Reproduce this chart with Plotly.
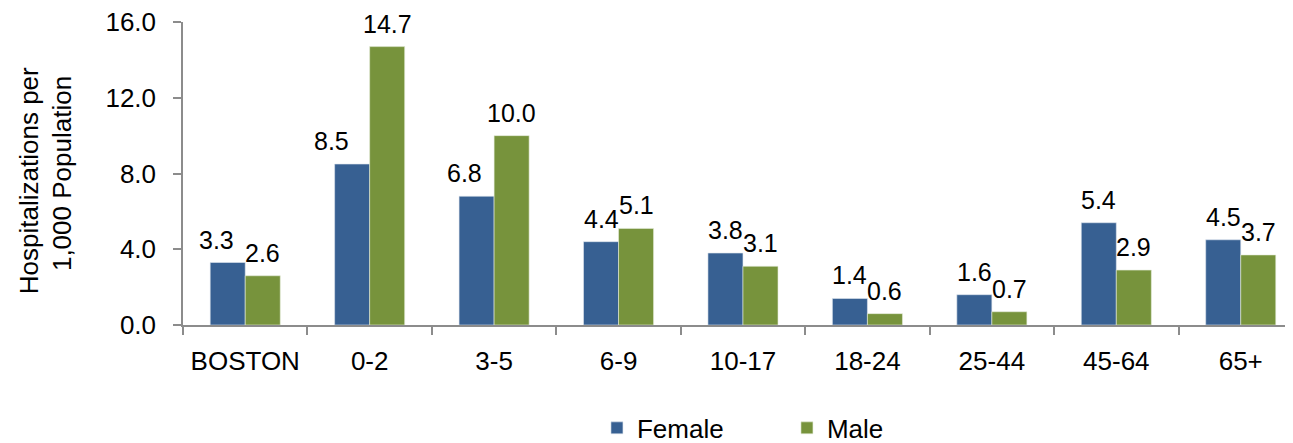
import plotly.graph_objects as go

categories = ["BOSTON", "0-2", "3-5", "6-9", "10-17", "18-24", "25-44", "45-64", "65+"]
female = [3.3, 8.5, 6.8, 4.4, 3.8, 1.4, 1.6, 5.4, 4.5]
male = [2.6, 14.7, 10.0, 5.1, 3.1, 0.6, 0.7, 2.9, 3.7]
y_ticks = [0, 4, 8, 12, 16]

# a few female labels sit left of their bar in the original (manual nudges)
female_label_nudge = [-11, -21, -12, 0, 0, 0, 0, 0, 0]

font_family = "Liberation Sans, Arial, Helvetica, sans-serif"
blue = "#376092"
green = "#77933C"
axis_grey = "#8c8c8c"

fig = go.Figure()
fig.add_trace(go.Bar(x=categories, y=female, name="Female",
                     marker=dict(color=blue, line=dict(color="#dfe6ee", width=0.6))))
fig.add_trace(go.Bar(x=categories, y=male, name="Male",
                     marker=dict(color=green, line=dict(color="#e6eddc", width=0.6))))

# data labels
half_bar = 17.5
for cat, f, m, nudge in zip(categories, female, male, female_label_nudge):
    fig.add_annotation(x=cat, y=f, text=f"{f:.1f}", showarrow=False,
                       xshift=-half_bar + nudge, yshift=7, yanchor="bottom",
                       font=dict(size=25, color="black"))
    fig.add_annotation(x=cat, y=m, text=f"{m:.1f}", showarrow=False,
                       xshift=half_bar, yshift=7, yanchor="bottom",
                       font=dict(size=25, color="black"))

# the page body has an 8px default margin, so margins are shifted to compensate
fig.update_layout(
    width=1293, height=443,
    margin=dict(l=175, r=8, t=14, b=126),
    plot_bgcolor="white", paper_bgcolor="white",
    font=dict(family=font_family, size=26, color="black"),
    barmode="group", bargap=0.437, bargroupgap=0,
    showlegend=True,
    legend=dict(orientation="h", xref="container", yref="container",
                x=0.4555, xanchor="left", y=0.052, yanchor="middle",
                font=dict(size=26), traceorder="normal", itemwidth=30,
                entrywidth=145),
)
fig.update_xaxes(range=[-0.5, 8.42], showline=True, linecolor=axis_grey, linewidth=1.5,
                 ticks="outside", tickson="boundaries", ticklen=8, tickcolor=axis_grey,
                 tickwidth=1.5, tickfont=dict(size=26), ticklabelstandoff=12,
                 showgrid=False, automargin=False)
fig.update_yaxes(range=[0, 16], tickvals=y_ticks, ticktext=[f"{v:.1f}" for v in y_ticks],
                 showline=True, linecolor=axis_grey, linewidth=1.5,
                 ticks="outside", ticklen=8, tickcolor=axis_grey, tickwidth=1.5,
                 tickfont=dict(size=26), ticklabelstandoff=12, ticklabeloverflow="allow",
                 showgrid=False, zeroline=False, automargin=False,
                 title=dict(text="Hospitalizations per\u00a0\u00a0<br>1,000 Population\u00a0\u00a0",
                            font=dict(size=26), standoff=26))

fig.write_html("out.html")
